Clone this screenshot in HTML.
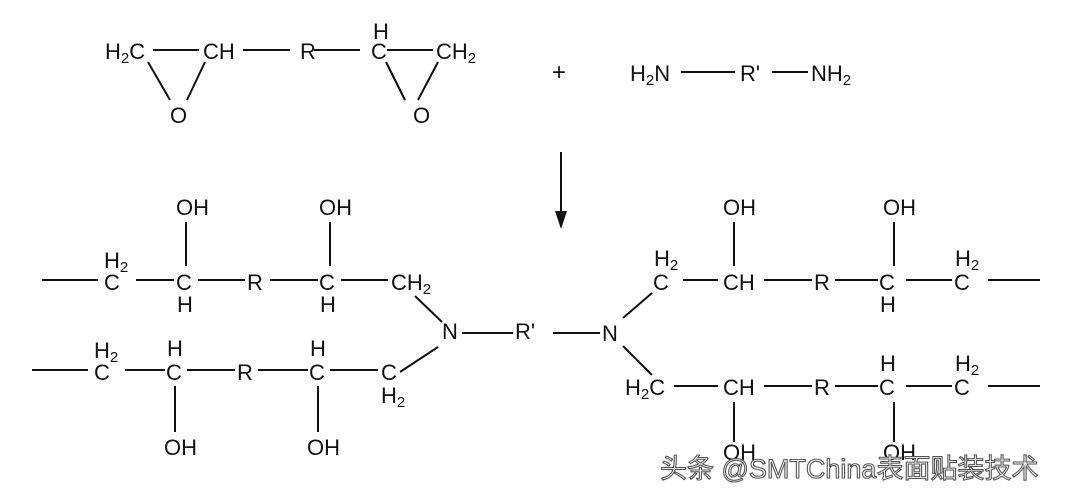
<!DOCTYPE html>
<html><head><meta charset="utf-8"><style>
html,body{margin:0;padding:0;background:#fff;}
svg{display:block}
text{font-family:"Liberation Sans",Arial,sans-serif;font-size:22px;fill:#111}
.s{font-size:15px}
line{stroke:#111;stroke-width:2}
</style></head><body>
<svg width="1080" height="498" viewBox="0 0 1080 498">
<!-- top epoxy -->
<text x="105" y="59">H<tspan class="s" dy="4">2</tspan><tspan dy="-4">C</tspan></text>
<line x1="153" y1="50" x2="199" y2="50"/>
<text x="203" y="59">CH</text>
<line x1="243" y1="50" x2="290" y2="50"/>
<text x="300" y="59">R</text>
<line x1="314" y1="50" x2="360" y2="50"/>
<text x="373" y="39">H</text>
<text x="371" y="59">C</text>
<line x1="387" y1="50" x2="433" y2="50"/>
<text x="436" y="59">CH<tspan class="s" dy="4">2</tspan></text>
<line x1="148" y1="62" x2="170" y2="100"/>
<line x1="205" y1="62" x2="187" y2="100"/>
<text x="170" y="123">O</text>
<line x1="386" y1="62" x2="405" y2="100"/>
<line x1="438" y1="62" x2="418" y2="100"/>
<text x="413" y="123">O</text>
<text x="552" y="80" style="font-size:24px">+</text>
<text x="630" y="81">H<tspan class="s" dy="4">2</tspan><tspan dy="-4">N</tspan></text>
<line x1="681" y1="72" x2="735" y2="72"/>
<text x="740" y="81">R'</text>
<line x1="772" y1="72" x2="808" y2="72"/>
<text x="811" y="81">NH<tspan class="s" dy="4">2</tspan></text>
<!-- arrow -->
<line x1="561" y1="152" x2="561" y2="215"/>
<polygon points="555,211 567,211 561,229" fill="#111"/>
<!-- left upper chain -->
<line x1="42" y1="280" x2="98" y2="280"/>
<text x="104" y="268">H<tspan class="s" dy="4">2</tspan></text>
<text x="104" y="290">C</text>
<line x1="136" y1="280" x2="174" y2="280"/>
<text x="176" y="290">C</text>
<text x="177" y="312">H</text>
<text x="176" y="215">OH</text>
<line x1="186" y1="222" x2="186" y2="266"/>
<line x1="198" y1="280" x2="245" y2="280"/>
<text x="247" y="290">R</text>
<line x1="270" y1="280" x2="318" y2="280"/>
<text x="319" y="290">C</text>
<text x="320" y="312">H</text>
<text x="319" y="215">OH</text>
<line x1="330" y1="222" x2="330" y2="266"/>
<line x1="341" y1="280" x2="388" y2="280"/>
<text x="391" y="290">CH<tspan class="s" dy="4">2</tspan></text>
<line x1="415" y1="296" x2="442" y2="322"/>
<text x="442" y="339">N</text>
<line x1="462" y1="333" x2="513" y2="333"/>
<text x="515" y="339">R'</text>
<!-- left lower chain -->
<line x1="32" y1="370" x2="88" y2="370"/>
<text x="94" y="358">H<tspan class="s" dy="4">2</tspan></text>
<text x="94" y="380">C</text>
<line x1="125" y1="370" x2="165" y2="370"/>
<text x="167" y="356">H</text>
<text x="166" y="380">C</text>
<line x1="175" y1="386" x2="175" y2="432"/>
<text x="164" y="455">OH</text>
<line x1="187" y1="370" x2="235" y2="370"/>
<text x="237" y="380">R</text>
<line x1="258" y1="370" x2="308" y2="370"/>
<text x="310" y="356">H</text>
<text x="309" y="380">C</text>
<line x1="318" y1="386" x2="318" y2="432"/>
<text x="307" y="455">OH</text>
<line x1="330" y1="370" x2="378" y2="370"/>
<text x="381" y="380">C</text>
<text x="381" y="403">H<tspan class="s" dy="4">2</tspan></text>
<line x1="400" y1="372" x2="438" y2="347"/>
<!-- right -->
<line x1="553" y1="333" x2="600" y2="333"/>
<text x="602" y="341">N</text>
<line x1="623" y1="318" x2="652" y2="293"/>
<line x1="623" y1="346" x2="652" y2="375"/>
<text x="654" y="266">H<tspan class="s" dy="4">2</tspan></text>
<text x="653" y="290">C</text>
<line x1="683" y1="280" x2="718" y2="280"/>
<text x="723" y="290">CH</text>
<text x="723" y="215">OH</text>
<line x1="734" y1="222" x2="734" y2="266"/>
<line x1="764" y1="280" x2="812" y2="280"/>
<text x="814" y="290">R</text>
<line x1="835" y1="280" x2="878" y2="280"/>
<text x="879" y="290">C</text>
<text x="880" y="312">H</text>
<text x="883" y="215">OH</text>
<line x1="894" y1="222" x2="894" y2="266"/>
<line x1="906" y1="280" x2="952" y2="280"/>
<text x="955" y="266">H<tspan class="s" dy="4">2</tspan></text>
<text x="954" y="290">C</text>
<line x1="988" y1="280" x2="1040" y2="280"/>
<text x="625" y="395">H<tspan class="s" dy="4">2</tspan><tspan dy="-4">C</tspan></text>
<line x1="674" y1="386" x2="718" y2="386"/>
<text x="723" y="395">CH</text>
<line x1="734" y1="402" x2="734" y2="442"/>
<line x1="764" y1="386" x2="812" y2="386"/>
<text x="814" y="395">R</text>
<line x1="835" y1="386" x2="878" y2="386"/>
<text x="880" y="371">H</text>
<text x="879" y="395">C</text>
<line x1="894" y1="402" x2="894" y2="442"/>
<line x1="906" y1="386" x2="952" y2="386"/>
<text x="955" y="371">H<tspan class="s" dy="4">2</tspan></text>
<text x="954" y="395">C</text>
<line x1="988" y1="386" x2="1040" y2="386"/>
<text x="723" y="460">OH</text>
<text x="883" y="460">OH</text>
<text x="660" y="478" style="font-family:'Liberation Sans','Noto Sans CJK SC',sans-serif;font-size:27px;fill:#fff;stroke:#555;stroke-width:1.1">头条 @SMTChina表面贴装技术</text>
</svg>
</body></html>
